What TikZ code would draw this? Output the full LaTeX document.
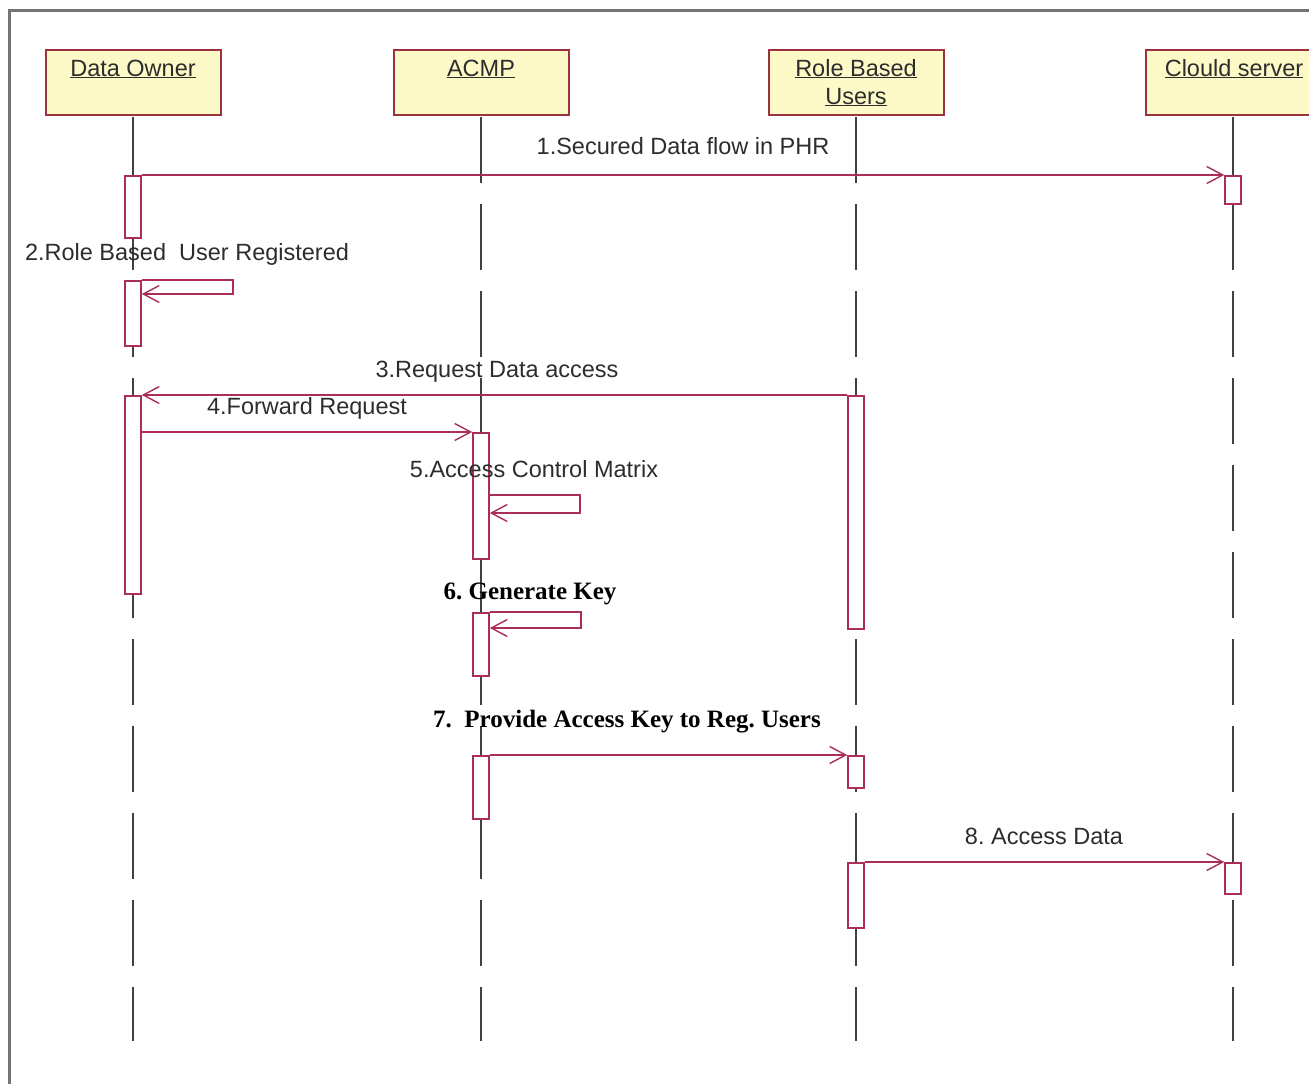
\documentclass[tikz,border=0pt]{standalone}
\usepackage{fontspec}
\setmainfont{Liberation Sans}
\newfontfamily\keyfont{Liberation Serif}
\usetikzlibrary{arrows.meta,calc}
\frenchspacing

\definecolor{msgline}{RGB}{170,45,90}
\definecolor{actorfill}{RGB}{253,250,200}
\definecolor{actoredge}{RGB}{155,50,65}
\definecolor{lifegray}{RGB}{65,65,65}
\definecolor{framegray}{RGB}{115,115,115}
\definecolor{labeltext}{RGB}{45,45,45}

\begin{document}
\begin{tikzpicture}[x=1pt,y=-1pt,
  actor/.style={draw=actoredge, fill=actorfill, line width=2pt,
    minimum width=175pt, minimum height=65pt, inner sep=0pt},
  actorname/.style={font=\fontsize{23.5}{29}\selectfont, text=labeltext,
    align=center, inner sep=0pt},
  lifeline/.style={draw=lifegray, line width=2pt,
    dash pattern=on 66pt off 21pt, dash phase=86pt},
  activation/.style={draw=msgline, fill=white, line width=1.6pt,
    minimum width=16pt, inner sep=0pt, anchor=north},
  msg/.style={draw=msgline, line width=1.8pt,
    -{Straight Barb[length=16pt,width=17pt,line width=1.4pt]}},
  lbl/.style={font=\fontsize{23.5}{28}\selectfont, text=labeltext, inner sep=0pt},
  boldlbl/.style={font=\keyfont\bfseries\fontsize{25}{30}\selectfont, text=black, inner sep=0pt}
]
\useasboundingbox (0,0) rectangle (1309,1084);
\fill[white] (0,0) rectangle (1309,1084);

% outer frame
\draw[framegray, line width=3pt] (9,1084) -- (9,10) -- (1309,10);

% actor boxes
\node[actor] (do) at (133,82.5) {};
\node[actor] (ac) at (481,82.5) {};
\node[actor] (rb) at (856,82.5) {};
\begin{scope}
  \clip (0,0) rectangle (1309,1084);
  \node[actor] (cs) at (1233,82.5) {};
\end{scope}

\node[actorname, anchor=base] (doname) at (133,76) {\underline{Data Owner}};
\node[actorname, anchor=base] (acname) at (481,76) {\underline{ACMP}};
\node[actorname, anchor=base] (rbname) at (856,76) {\underline{Role Based}};
\node[actorname, anchor=base] (rbname2) at (856,104) {\underline{Users}};
\node[actorname, anchor=base] (csname) at (1234,76) {\underline{Clould server}};

% lifelines
\draw[lifeline] (do.south) -- ++(0,925);
\draw[lifeline] (ac.south) -- ++(0,925);
\draw[lifeline] (rb.south) -- ++(0,925);
\draw[lifeline] (cs.south) -- ++(0,925);

% activation bars
\node[activation, minimum height=62pt]  (do1) at (133,175) {};
\node[activation, minimum height=65pt]  (do2) at (133,280) {};
\node[activation, minimum height=198pt] (do3) at (133,395) {};
\node[activation, minimum height=126pt] (ac1) at (481,432) {};
\node[activation, minimum height=63pt]  (ac2) at (481,612) {};
\node[activation, minimum height=63pt]  (ac3) at (481,755) {};
\node[activation, minimum height=233pt] (rb1) at (856,395) {};
\node[activation, minimum height=32pt]  (rb2) at (856,755) {};
\node[activation, minimum height=65pt]  (rb3) at (856,862) {};
\node[activation, minimum height=28pt]  (cs1) at (1233,175) {};
\node[activation, minimum height=31pt]  (cs2) at (1233,862) {};

% messages
\draw[msg] (do1.north east) -- (cs1.north west);
\draw[msg] (do2.north east) -- ++(91,0) -- ++(0,14) -- ($(do2.north east)+(0,14)$);
\draw[msg] (rb1.north west) -- (do3.north east);
\draw[msg] (do3.east |- ac1.north) -- (ac1.north west);
\draw[msg] ($(ac1.north east)+(0,63)$) -- ++(90,0) -- ++(0,18) -- ($(ac1.north east)+(0,81)$);
\draw[msg] (ac2.north east) -- ++(91,0) -- ++(0,16) -- ($(ac2.north east)+(0,16)$);
\draw[msg] (ac3.north east) -- (rb2.north west);
\draw[msg] (rb3.north east) -- (cs2.north west);

% message labels
\node[lbl] (l1) at (683,146) {1.Secured Data flow in PHR};
\node[lbl] (l2) at (187,254) {2.Role Based~~User Registered};
\node[lbl] (l3) at (497,372) {3.Request Data access};
\node[lbl] (l4) at (307,408) {4.Forward Request};
\node[lbl] (l5) at (534,469) {5.Access Control Matrix};
\node[boldlbl] (l6) at (530,594) {6. Generate Key};
\node[boldlbl] (l7) at (627,722) {7.~~Provide Access Key to Reg. Users};
\node[lbl] (l8) at (1044,836) {8. Access Data};
\end{tikzpicture}
\end{document}
